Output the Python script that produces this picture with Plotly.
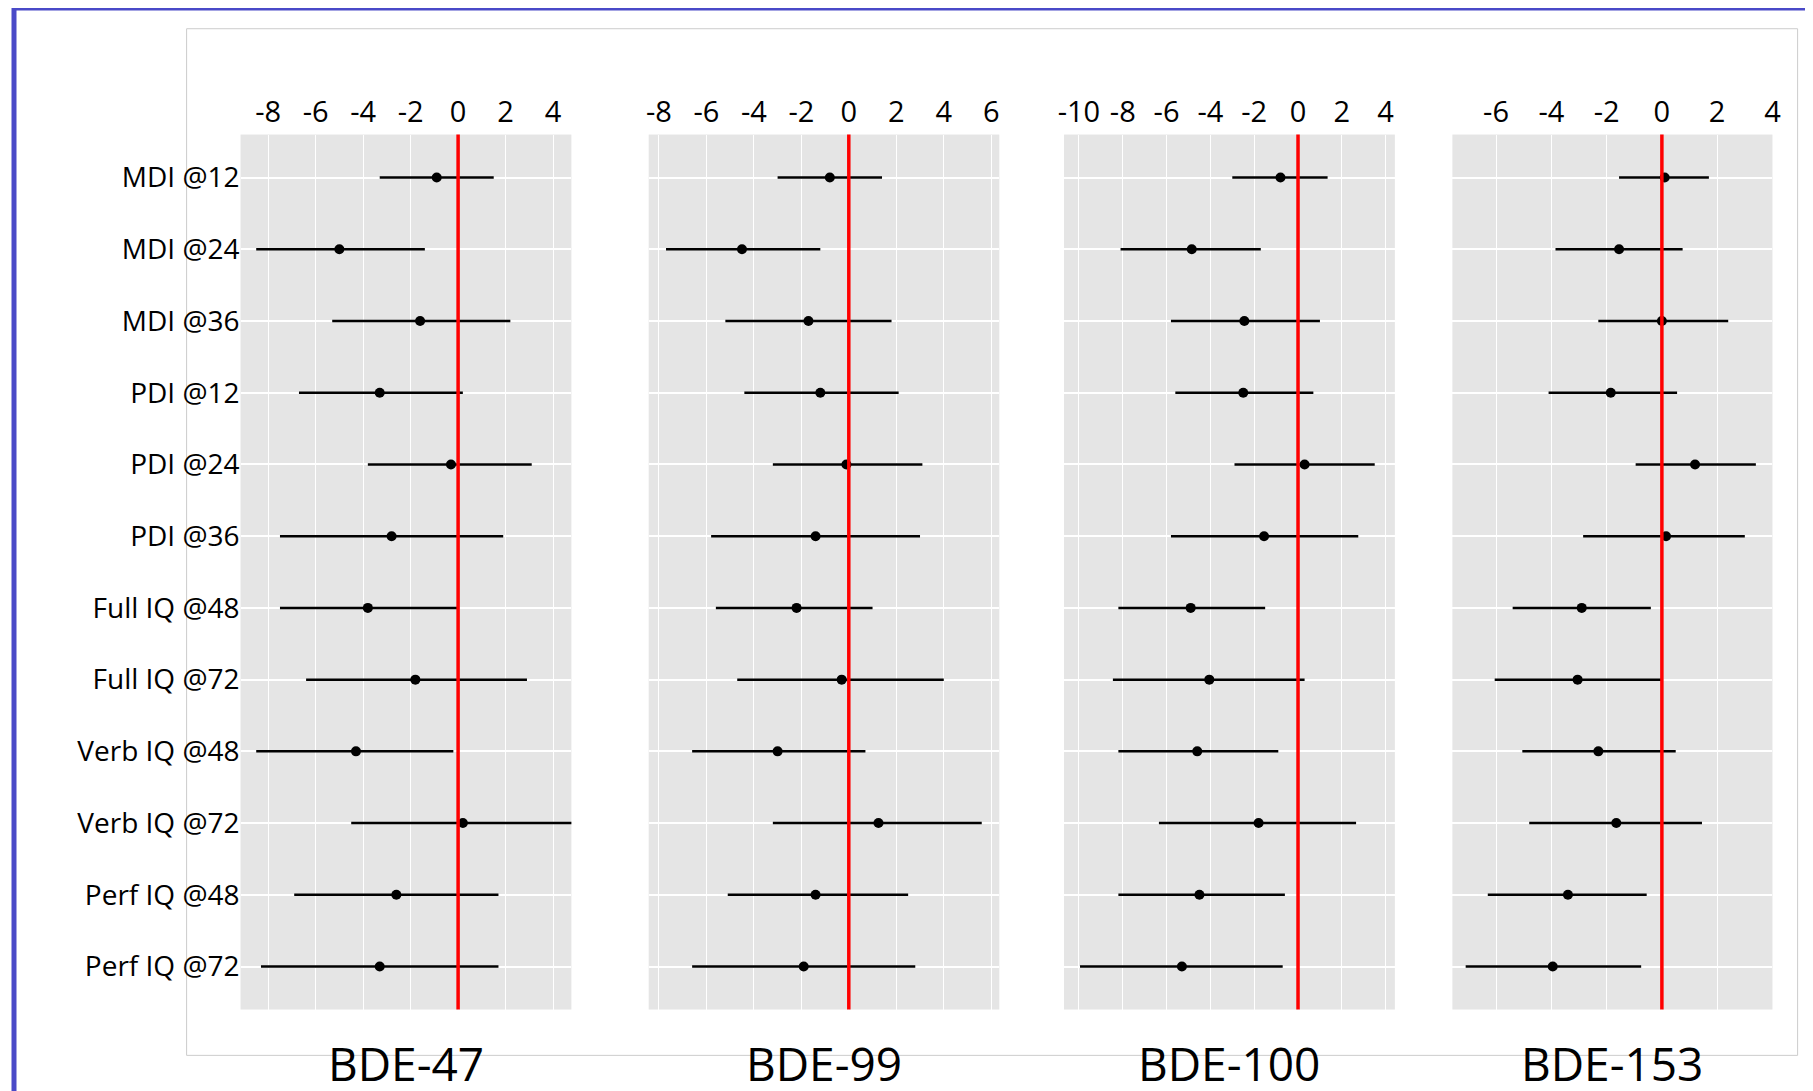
import plotly.graph_objects as go

outcomes = ["MDI @12", "MDI @24", "MDI @36", "PDI @12", "PDI @24", "PDI @36",
            "Full IQ @48", "Full IQ @72", "Verb IQ @48", "Verb IQ @72",
            "Perf IQ @48", "Perf IQ @72"]
panels = ["BDE-47", "BDE-99", "BDE-100", "BDE-153"]

est_47 = [-0.9, -5.0, -1.6, -3.3, -0.3, -2.8, -3.8, -1.8, -4.3, 0.2, -2.6, -3.3]
lo_47 = [-3.3, -8.5, -5.3, -6.7, -3.8, -7.5, -7.5, -6.4, -8.5, -4.5, -6.9, -8.3]
hi_47 = [1.5, -1.4, 2.2, 0.2, 3.1, 1.9, 0.0, 2.9, -0.2, 4.8, 1.7, 1.7]

est_99 = [-0.8, -4.5, -1.7, -1.2, -0.1, -1.4, -2.2, -0.3, -3.0, 1.25, -1.4, -1.9]
lo_99 = [-3.0, -7.7, -5.2, -4.4, -3.2, -5.8, -5.6, -4.7, -6.6, -3.2, -5.1, -6.6]
hi_99 = [1.4, -1.2, 1.8, 2.1, 3.1, 3.0, 1.0, 4.0, 0.7, 5.6, 2.5, 2.8]

est_100 = [-0.8, -4.85, -2.45, -2.5, 0.3, -1.55, -4.9, -4.05, -4.6, -1.8, -4.5, -5.3]
lo_100 = [-3.0, -8.1, -5.8, -5.6, -2.9, -5.8, -8.2, -8.45, -8.2, -6.35, -8.2, -9.95]
hi_100 = [1.35, -1.7, 1.0, 0.7, 3.5, 2.75, -1.5, 0.3, -0.9, 2.65, -0.6, -0.7]

est_153 = [0.1, -1.55, 0.0, -1.85, 1.2, 0.15, -2.9, -3.05, -2.3, -1.65, -3.4, -3.95]
lo_153 = [-1.55, -3.85, -2.3, -4.1, -0.95, -2.85, -5.4, -6.05, -5.05, -4.8, -6.3, -7.1]
hi_153 = [1.7, 0.75, 2.4, 0.55, 3.4, 3.0, -0.4, 0.0, 0.5, 1.45, -0.55, -0.75]

data = [(est_47, lo_47, hi_47), (est_99, lo_99, hi_99),
        (est_100, lo_100, hi_100), (est_153, lo_153, hi_153)]
ticks = [[-8, -6, -4, -2, 0, 2, 4], [-8, -6, -4, -2, 0, 2, 4, 6],
         [-10, -8, -6, -4, -2, 0, 2, 4], [-6, -4, -2, 0, 2, 4]]
xranges = [[-9.16, 4.77], [-8.43, 6.34], [-10.68, 4.42], [-7.58, 4.0]]
domains = [[0.126, 0.310], [0.353, 0.548], [0.584, 0.768], [0.800, 0.978]]

FONT = "Open Sans"
fig = go.Figure()
rows = list(range(len(outcomes)))

for i, (est, lo, hi) in enumerate(data):
    n = "" if i == 0 else str(i + 1)
    fig.add_trace(go.Scatter(
        x=est, y=rows, mode="markers",
        marker=dict(color="black", size=10, symbol="circle"),
        error_x=dict(type="data", symmetric=False,
                     array=[h - e for h, e in zip(hi, est)],
                     arrayminus=[e - l for e, l in zip(est, lo)],
                     color="black", thickness=2.5, width=0),
        xaxis="x" + n, yaxis="y" + n, showlegend=False))
    fig.update_layout(**{
        "xaxis" + n: dict(domain=domains[i], range=xranges[i], side="top",
                          tickvals=ticks[i], ticktext=[str(t) for t in ticks[i]],
                          tickangle=0, showline=False, zeroline=False,
                          gridcolor="white", gridwidth=1,
                          tickfont=dict(family=FONT, size=29, color="black"),
                          ticklabelstandoff=6,
                          anchor="y" + n, ticks="", fixedrange=True),
        "yaxis" + n: dict(domain=[0.082, 0.884], range=[11.6, -0.6],
                          tickvals=rows,
                          ticktext=outcomes if i == 0 else [""] * 12,
                          showticklabels=(i == 0), zeroline=False,
                          gridcolor="white", gridwidth=2,
                          tickfont=dict(family=FONT, size=28, color="black"),
                          anchor="x" + n, ticks=""),
    })
    xa = "x" + n
    fig.add_shape(type="line", xref=xa, yref="paper", x0=0, x1=0,
                  y0=0.082, y1=0.884, line=dict(color="red", width=3.5))
    fig.add_annotation(text=panels[i], xref="paper", yref="paper",
                       x=(domains[i][0] + domains[i][1]) / 2, y=0.033,
                       xanchor="center", yanchor="middle", showarrow=False,
                       font=dict(family=FONT, size=46, color="black"))

# frames
fig.add_shape(type="rect", xref="paper", yref="paper", x0=0.096, x1=0.992,
              y0=0.04, y1=0.981, line=dict(color="#cccccc", width=1),
              layer="below")
fig.add_shape(type="rect", xref="paper", yref="paper", x0=0, x1=1, y0=0, y1=1,
              line=dict(color="#4a4ac8", width=5))

fig.update_layout(width=1813, height=1091, paper_bgcolor="white",
                  plot_bgcolor="#e5e5e5",
                  margin=dict(l=0, r=0, t=0, b=0))
fig.write_html("out.html")
